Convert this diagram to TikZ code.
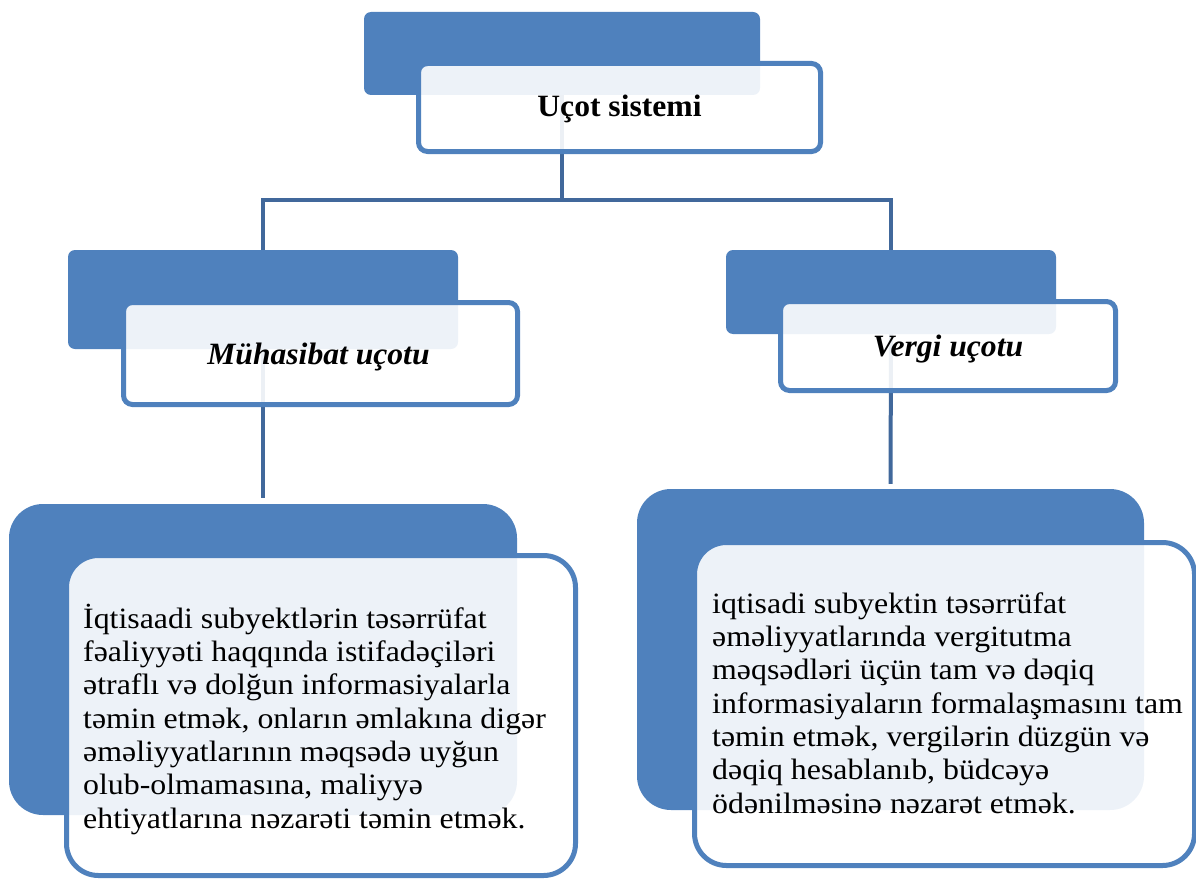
\documentclass[tikz,border=0pt]{standalone}
\usepackage{fontspec}
\setmainfont{Liberation Serif}
\newfontfamily\bodyfont[FakeStretch=1.08]{Liberation Serif}
\newfontfamily\headfont[FakeStretch=1.02]{Liberation Serif}
\definecolor{acc}{HTML}{4F81BD}
\definecolor{lnk}{HTML}{41689B}
\begin{document}
\begin{tikzpicture}[x=1pt,y=-1pt,
  backbox/.style={fill=acc, draw=none, inner sep=0pt, rounded corners=7pt},
  frontbox/.style={fill=white, fill opacity=0.9, draw=acc, line width=5pt, inner sep=0pt, rounded corners=9pt},
  bigback/.style={backbox, rounded corners=34pt},
  bigfront/.style={frontbox, rounded corners=32pt},
  conn/.style={draw=lnk, line width=4pt},
  headtext/.style={anchor=base, inner sep=0pt, font=\headfont\bfseries\fontsize{31}{36}\selectfont},
  subtext/.style={anchor=base, inner sep=0pt, font=\headfont\bfseries\itshape\fontsize{31}{36}\selectfont},
  bodytext/.style={anchor=base west, align=left, inner sep=0pt, font=\bodyfont\fontsize{29.5}{33.3}\selectfont}]
\useasboundingbox (0,0) rectangle (1196,880);
% back boxes
\node[backbox, minimum width=396pt, minimum height=83pt] (tb) at (562,53.5) {};
\node[backbox, minimum width=390pt, minimum height=99pt] (mlb) at (263,299.5) {};
\node[backbox, minimum width=330pt, minimum height=84pt] (mrb) at (891,292) {};
\node[bigback, minimum width=508pt, minimum height=311pt] (blb) at (263,659.5) {};
\node[bigback, minimum width=507pt, minimum height=321pt] (brb) at (890.5,649.5) {};
% connectors
\coordinate (hub) at (562,200);
\draw[conn] (tb.south) -- (hub);
\draw[conn] (mlb.north) |- (hub) -| (mrb.north);
\draw[conn, shorten >=6pt] (mlb.south) -- (blb.north);
\draw[conn, shorten >=5pt] (mrb.south) -- (brb.north);
% front boxes
\node[frontbox, minimum width=402pt, minimum height=88pt] (tf) at (619.5,107.5) {};
\node[frontbox, minimum width=394pt, minimum height=102pt] (mlf) at (320.5,353.5) {};
\node[frontbox, minimum width=335pt, minimum height=89pt] (mrf) at (948,346) {};
\node[bigfront, minimum width=509pt, minimum height=320pt] (blf) at (321,715.5) {};
\node[bigfront, minimum width=500pt, minimum height=323pt] (brf) at (944.5,704) {};
% labels
\node[headtext] (tft) at (619.5,117) {Uçot sistemi};
\node[subtext] (mlt) at (318.5,364) {Mühasibat uçotu};
\node[subtext] (mrt) at (948,356) {Vergi uçotu};
% body texts (base = baseline of last line)
\node[bodytext] (blt) at (83,828) {İqtisaadi subyektlərin təsərrüfat\\
fəaliyyəti haqqında istifadəçiləri\\
ətraflı və dolğun informasiyalarla\\
təmin etmək, onların əmlakına digər\\
əməliyyatlarının məqsədə uyğun\\
olub-olmamasına, maliyyə\\
ehtiyatlarına nəzarəti təmin etmək.};
\node[bodytext] (brt) at (712,813) {iqtisadi subyektin təsərrüfat\\
əməliyyatlarında vergitutma\\
məqsədləri üçün tam və dəqiq\\
informasiyaların formalaşmasını tam\\
təmin etmək, vergilərin düzgün və\\
dəqiq hesablanıb, büdcəyə\\
ödənilməsinə nəzarət etmək.};
\end{tikzpicture}
\end{document}
